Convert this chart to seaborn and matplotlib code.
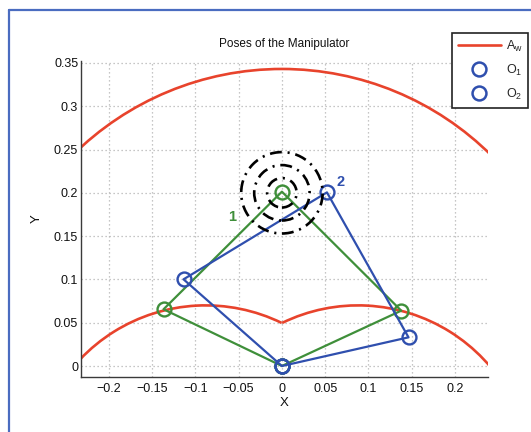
import numpy as np
import pandas as pd
import matplotlib
matplotlib.use("Agg")
import matplotlib.pyplot as plt
from matplotlib.patches import Arc, Circle
from matplotlib.lines import Line2D
import seaborn as sns

# ---------------- data ----------------
pose_names = ["1", "2"]
pose1_x = [0.0, -0.1367, 0.0, 0.1378, 0.0]
pose1_y = [0.0, 0.0655, 0.2013, 0.0639, 0.0]
pose2_x = [0.0, -0.1136, 0.0520, 0.1462, 0.0]
pose2_y = [0.0, 0.1001, 0.2005, 0.0331, 0.0]
pose_label_x = [-0.057, 0.068]
pose_label_y = [0.172, 0.2125]

outer_center = [0.0, 0.0]
outer_radius = 0.343
inner_centers_x = [-0.088, 0.088]
inner_centers_y = [-0.130, -0.130]
inner_radius = 0.200
inner_theta1 = [64.0, 0.0]
inner_theta2 = [180.0, 116.0]

target_center = [0.0, 0.2]
target_radii = [0.017, 0.032, 0.047]

xticks = [-0.2, -0.15, -0.1, -0.05, 0, 0.05, 0.1, 0.15, 0.2]
xticklabels = ["\u22120.2", "\u22120.15", "\u22120.1", "\u22120.05", "0", "0.05", "0.1", "0.15", "0.2"]
yticks = [0, 0.05, 0.1, 0.15, 0.2, 0.25, 0.3, 0.35]
yticklabels = ["0", "0.05", "0.1", "0.15", "0.2", "0.25", "0.3", "0.35"]
legend_labels = [r"A$_\mathregular{w}$", r"O$_\mathregular{1}$", r"O$_\mathregular{2}$"]

# ---------------- style ----------------
RED = "#e8432c"
GREEN = "#3f8f3a"
BLUE = "#2f4fae"

sns.set_theme(style="white")
plt.rcParams["font.family"] = ["Liberation Sans", "DejaVu Sans"]
plt.rcParams["mathtext.fontset"] = "custom"
plt.rcParams["mathtext.rm"] = "Liberation Sans"

W, H = 531, 432
fig = plt.figure(figsize=(W / 100, H / 100), dpi=100)
fig.patch.set_facecolor("white")

left_px, right_px, bottom_px, top_px = 81, 488, 377, 61
ax = fig.add_axes([left_px / W, 1 - bottom_px / H,
                   (right_px - left_px) / W, (bottom_px - top_px) / H])
ax.set_xlim(-0.232, 0.238)
ax.set_ylim(-0.0127, 0.3522)

# grid
ax.set_xticks(xticks)
ax.set_xticklabels(xticklabels)
ax.set_yticks(yticks)
ax.set_yticklabels(yticklabels)
ax.grid(True, linestyle=(0, (1, 2.2)), color="#b4b4b4", linewidth=0.9)
ax.set_axisbelow(True)

# workspace boundary (red)
ax.add_patch(Arc(outer_center, 2 * outer_radius, 2 * outer_radius,
                 theta1=0, theta2=180, color=RED, lw=1.9, zorder=2))
for cx, cy, t1, t2 in zip(inner_centers_x, inner_centers_y, inner_theta1, inner_theta2):
    ax.add_patch(Arc((cx, cy), 2 * inner_radius, 2 * inner_radius,
                     theta1=t1, theta2=t2, color=RED, lw=1.9, zorder=2))

# poses
df1 = pd.DataFrame({"x": pose1_x, "y": pose1_y})
df2 = pd.DataFrame({"x": pose2_x, "y": pose2_y})
sns.lineplot(data=df1, x="x", y="y", sort=False, estimator=None, color=GREEN,
             lw=1.6, marker="o", markersize=10, markerfacecolor="none",
             markeredgecolor=GREEN, markeredgewidth=1.7, ax=ax, zorder=3)
sns.lineplot(data=df2, x="x", y="y", sort=False, estimator=None, color=BLUE,
             lw=1.6, marker="o", markersize=10, markerfacecolor="none",
             markeredgecolor=BLUE, markeredgewidth=1.7, ax=ax, zorder=4)

# target circles
for r in target_radii:
    ax.add_patch(Circle(target_center, r, fill=False, ec="black", lw=1.9,
                        linestyle=(0, (4.5, 2.2, 0.8, 2.2)), zorder=5))

# pose labels
for name, lx, ly, c in zip(pose_names, pose_label_x, pose_label_y, [GREEN, BLUE]):
    ax.text(lx, ly, name, color=c, fontsize=10.5, fontweight="bold",
            ha="center", va="center", zorder=6)

# axes styling
for s in ["top", "right"]:
    ax.spines[s].set_visible(False)
for s in ["left", "bottom"]:
    ax.spines[s].set_color("#3a3a3a")
    ax.spines[s].set_linewidth(1.0)
ax.tick_params(axis="both", direction="in", length=4, width=0.9, color="#3a3a3a",
               labelsize=9, labelcolor="#111111")
ax.tick_params(axis="x", pad=4)
ax.tick_params(axis="y", pad=2)
ax.set_xlabel("X", fontsize=9.5, color="#111111")
ax.set_ylabel("Y", fontsize=9.5, color="#111111")
ax.xaxis.set_label_coords(0.5, -(397 - bottom_px) / (bottom_px - top_px), transform=ax.transAxes)
ax.yaxis.set_label_coords(-(left_px - 43) / (right_px - left_px), 0.5, transform=ax.transAxes)
ax.set_title("Poses of the Manipulator", fontsize=8.5, pad=10, color="#111111")

# legend
handles = [Line2D([], [], color=RED, lw=1.9),
           Line2D([], [], color=BLUE, lw=0, marker="o", markersize=10,
                  markerfacecolor="none", markeredgewidth=1.8),
           Line2D([], [], color=BLUE, lw=0, marker="o", markersize=10,
                  markerfacecolor="none", markeredgewidth=1.8)]
leg = ax.legend(handles, legend_labels, loc="upper right",
                bbox_to_anchor=(528 / W, 1 - 33 / H), bbox_transform=fig.transFigure,
                frameon=True, fancybox=False, framealpha=1, edgecolor="#222222",
                fontsize=9, handlelength=3.4, labelspacing=0.72, borderpad=0.45,
                handletextpad=0.4, borderaxespad=0)
leg.get_frame().set_linewidth(1.2)

# blue page frame
fig.add_artist(Line2D([8.5 / W, 8.5 / W], [0, 1 - 10 / H], transform=fig.transFigure,
                      color="#4a6cc0", lw=1.6))
fig.add_artist(Line2D([8.5 / W, 1], [1 - 10 / H, 1 - 10 / H], transform=fig.transFigure,
                      color="#4a6cc0", lw=1.6))

fig.savefig("out.png", dpi=100)
